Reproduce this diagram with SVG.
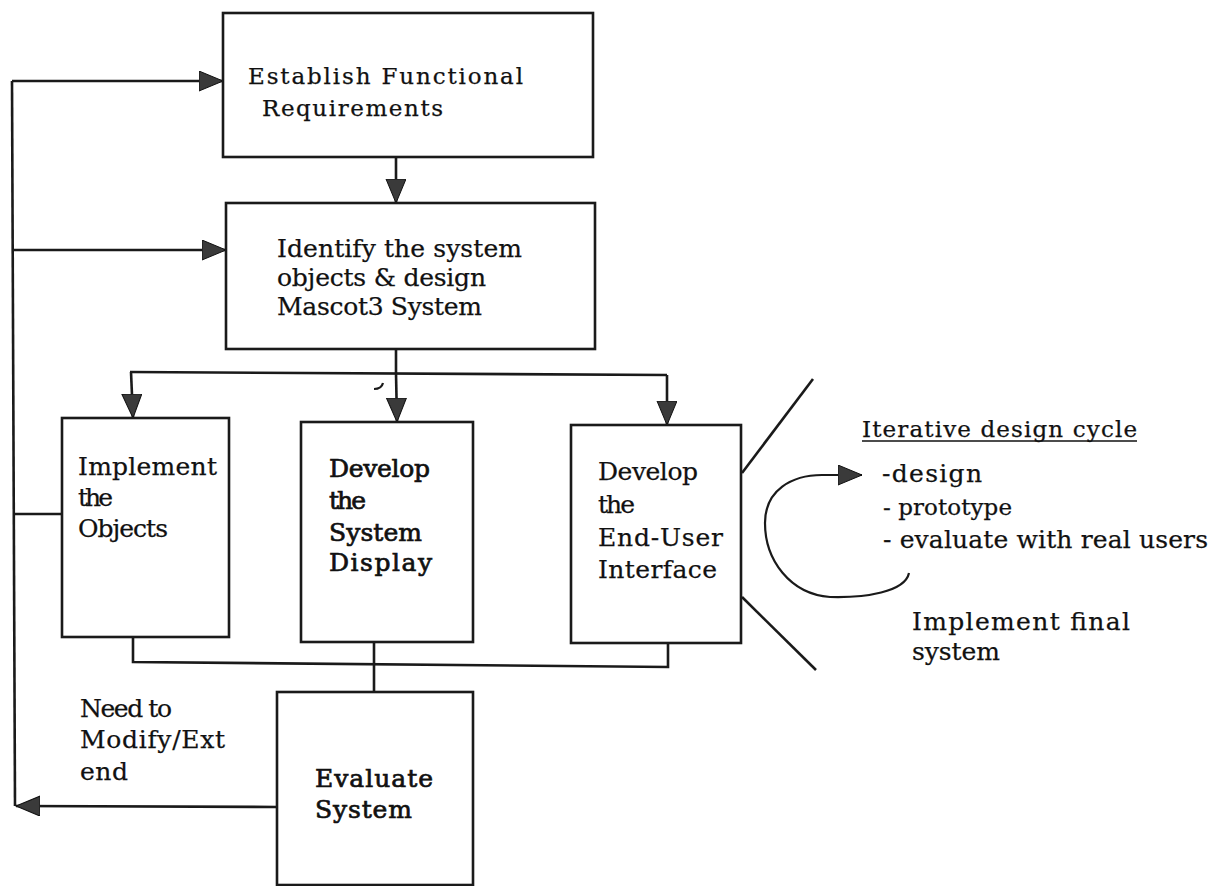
<svg xmlns="http://www.w3.org/2000/svg" width="1220" height="886" viewBox="0 0 1220 886">
<defs>
<style>
.box{fill:#fff;stroke:#1a1a1a;stroke-width:2.6}
.ln{fill:none;stroke:#1a1a1a;stroke-width:2.6}
.thin{fill:none;stroke:#1a1a1a;stroke-width:2.2}
.t{font-family:"DejaVu Serif","Liberation Serif",serif;font-size:25px;fill:#111;stroke:#111;stroke-width:0.25}
.tb{stroke-width:0.7}
.s{font-size:23px}
</style>
<marker id="ah" markerUnits="userSpaceOnUse" markerWidth="26" markerHeight="22" refX="24" refY="10" orient="auto">
<path d="M0,0 L24,10 L0,20 z" fill="#3a3a3a" stroke="#111" stroke-width="1"/>
</marker>
</defs>
<rect width="1220" height="886" fill="#fff"/>
<g id="connectors">
<path class="ln" d="M12,81 L15,806"/>
<path class="ln" d="M12,81 L223,81" marker-end="url(#ah)"/>
<path class="ln" d="M396,157 L396,203" marker-end="url(#ah)"/>
<path class="ln" d="M13,250 L226,250" marker-end="url(#ah)"/>
<path class="ln" d="M396,349 L396,373"/>
<path class="ln" d="M130,372 L667,375"/>
<path class="ln" d="M131,372 L133,418" marker-end="url(#ah)"/>
<path class="ln" d="M396,373 L397,422" marker-end="url(#ah)"/>
<path class="ln" d="M667,375 L667,425" marker-end="url(#ah)"/>
<path class="ln" d="M14,514 L62,514"/>
<path class="ln" d="M133,637 L133,662 L668,667 L668,643"/>
<path class="ln" d="M374,642 L374,692"/>
<path class="ln" d="M277,807 L16,806" marker-end="url(#ah)"/>
<path class="ln" d="M742,473 L813,379"/>
<path class="ln" d="M742,597 L816,670"/>
<path class="thin" d="M909,573 C905,592 865,598 830,597 C790,594 765,560 765,523 C765,490 792,475 822,475 L862,475" marker-end="url(#ah)"/>
<path class="thin" d="M374,389 C378,389 382,387 383,383" stroke-width="1.6"/>
</g>
<g id="n1">
<rect class="box" x="223" y="13" width="370" height="144"/>
<text class="t s" x="248" y="84" textLength="275" lengthAdjust="spacing">Establish Functional</text>
<text class="t s" x="262" y="116" textLength="181" lengthAdjust="spacing">Requirements</text>
</g>
<g id="n2">
<rect class="box" x="226" y="203" width="369" height="146"/>
<text class="t" x="277" y="257" textLength="245" lengthAdjust="spacing">Identify the system</text>
<text class="t" x="277" y="286" textLength="209" lengthAdjust="spacing">objects &amp; design</text>
<text class="t" x="277" y="315" textLength="205" lengthAdjust="spacing">Mascot3 System</text>
</g>
<g id="n3">
<rect class="box" x="62" y="418" width="167" height="219"/>
<text class="t" x="78" y="475" textLength="139" lengthAdjust="spacing">Implement</text>
<text class="t" x="78" y="506" textLength="35" lengthAdjust="spacing">the</text>
<text class="t" x="78" y="537" textLength="90" lengthAdjust="spacing">Objects</text>
</g>
<g id="n4">
<rect class="box" x="301" y="422" width="172" height="220"/>
<text class="t tb" x="329" y="477" textLength="101" lengthAdjust="spacing">Develop</text>
<text class="t tb" x="329" y="509" textLength="37" lengthAdjust="spacing">the</text>
<text class="t tb" x="329" y="541" textLength="93" lengthAdjust="spacing">System</text>
<text class="t tb" x="329" y="571" textLength="103" lengthAdjust="spacing">Display</text>
</g>
<g id="n5">
<rect class="box" x="571" y="425" width="170" height="218"/>
<text class="t" x="598" y="480" textLength="100" lengthAdjust="spacing">Develop</text>
<text class="t" x="598" y="513" textLength="37" lengthAdjust="spacing">the</text>
<text class="t" x="598" y="546" textLength="125" lengthAdjust="spacing">End-User</text>
<text class="t" x="598" y="578" textLength="119" lengthAdjust="spacing">Interface</text>
</g>
<g id="n6">
<rect class="box" x="277" y="692" width="196" height="193"/>
<text class="t tb" x="315" y="787" textLength="118" lengthAdjust="spacing">Evaluate</text>
<text class="t tb" x="315" y="818" textLength="97" lengthAdjust="spacing">System</text>
</g>
<g id="label-modify">
<text class="t" x="80" y="717" textLength="92" lengthAdjust="spacing">Need to</text>
<text class="t" x="80" y="748" textLength="145" lengthAdjust="spacing">Modify/Ext</text>
<text class="t" x="80" y="780" textLength="48" lengthAdjust="spacing">end</text>
</g>
<g id="cycle">
<text class="t s" x="862" y="437" textLength="275" lengthAdjust="spacing">Iterative design cycle</text>
<line x1="862" y1="441" x2="1137" y2="441" stroke="#111" stroke-width="1.4"/>
<text class="t" x="882" y="482" textLength="100" lengthAdjust="spacing">-design</text>
<text class="t s" x="883" y="515" textLength="129" lengthAdjust="spacing">- prototype</text>
<text class="t" x="883" y="548" textLength="325" lengthAdjust="spacing">- evaluate with real users</text>
<text class="t" x="912" y="630" textLength="218" lengthAdjust="spacing">Implement  final</text>
<text class="t" x="912" y="660" textLength="88" lengthAdjust="spacing">system</text>
</g>
</svg>
